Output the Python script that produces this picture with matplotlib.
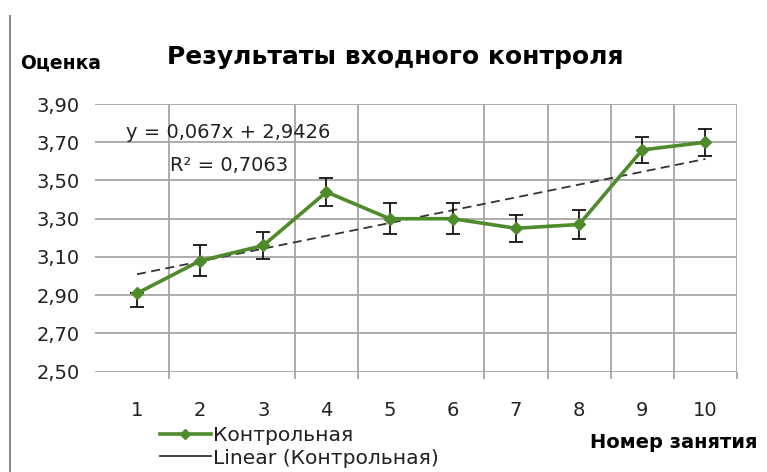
import matplotlib
matplotlib.use("Agg")
import matplotlib.pyplot as plt
from matplotlib.lines import Line2D
import numpy as np

plt.rcParams['font.family'] = ['DejaVu Sans']

# данные
lessons = [1, 2, 3, 4, 5, 6, 7, 8, 9, 10]
scores = [2.91, 3.08, 3.16, 3.44, 3.30, 3.30, 3.25, 3.27, 3.66, 3.70]
err_low = [0.07, 0.08, 0.07, 0.075, 0.08, 0.08, 0.07, 0.075, 0.07, 0.07]
err_high = [0.0, 0.08, 0.07, 0.075, 0.08, 0.08, 0.07, 0.075, 0.07, 0.07]
trend_slope = 0.067
trend_icept = 2.9426
r2_text = "0,7063"
y_ticks = [2.50, 2.70, 2.90, 3.10, 3.30, 3.50, 3.70, 3.90]
grid_x = [1.5, 3.5, 4.5, 6.5, 7.5, 8.5, 9.5, 10.5]

green = '#4f8a2b'
gridc = '#a6a6a6'
txtc = '#222222'

fig = plt.figure(figsize=(7.67, 4.72), dpi=100)
ax = fig.add_axes([95/767, 1 - 371.7/472, (737-95)/767, (371.7-104)/472])

# сетка
for yv in y_ticks:
    ax.axhline(yv, color=gridc, lw=1.3, zorder=1)
for xv in grid_x:
    ax.axvline(xv, color=gridc, lw=1.3, zorder=1)

# тренд
xt = np.array([lessons[0], lessons[-1]])
ax.plot(xt, trend_slope * xt + trend_icept, color='#333333', lw=1.3,
        dashes=(5, 3), zorder=2)

# основная линия
ax.errorbar(lessons, scores, yerr=[err_low, err_high], fmt='none',
            ecolor='black', elinewidth=1.2, capsize=5, capthick=1.2, zorder=3)
ax.plot(lessons, scores, color=green, lw=2.6, marker='D', markersize=6,
        markerfacecolor=green, markeredgecolor=green, zorder=4)

ax.set_xlim(0.335, 10.5)
ax.set_ylim(2.50, 3.90)
for s in ax.spines.values():
    s.set_visible(False)

ax.set_yticks(y_ticks)
ax.set_yticklabels(['{:.2f}'.format(v).replace('.', ',') for v in y_ticks],
                   fontsize=14, color=txtc)
ax.tick_params(axis='y', length=0, pad=11)
ax.set_xticks(lessons)
ax.set_xticklabels([str(v) for v in lessons], fontsize=14, color=txtc)
ax.tick_params(axis='x', which='major', length=0, pad=21)
ax.set_xticks(grid_x, minor=True)
ax.tick_params(axis='x', which='minor', length=5, width=1.3, color=gridc)

# тексты
fig.text(395/767, 1 - 57/472, 'Результаты входного контроля', ha='center',
         va='center', fontsize=18, fontweight='bold')
fig.text(20/767, 1 - 63/472, 'Оценка', ha='left', va='center',
         fontsize=13.5, fontweight='bold')
fig.text(758/767, 1 - 443/472, 'Номер занятия', ha='right', va='center',
         fontsize=14, fontweight='bold')
ax.text(2.44, 3.75, 'y = 0,067x + 2,9426', ha='center', va='center',
        fontsize=14, color=txtc)
ax.text(2.46, 3.58, 'R² = ' + r2_text, ha='center', va='center',
        fontsize=14, color=txtc)

# легенда
h1 = Line2D([], [], color=green, lw=2.6, marker='D', markersize=5)
h2 = Line2D([], [], color='#333333', lw=1.3)
fig.legend([h1, h2], ['Контрольная', 'Linear (Контрольная)'],
           loc='center left', bbox_to_anchor=(150/767, 1 - 447/472), frameon=False,
           fontsize=14.6, handlelength=2.5, handletextpad=0.1, labelspacing=0.15,
           borderpad=0.0, labelcolor=txtc)

fig.add_artist(Line2D([10/767, 10/767], [0, 1 - 16/472], color='#888888', lw=1.4))

fig.savefig('out.png', dpi=100)
